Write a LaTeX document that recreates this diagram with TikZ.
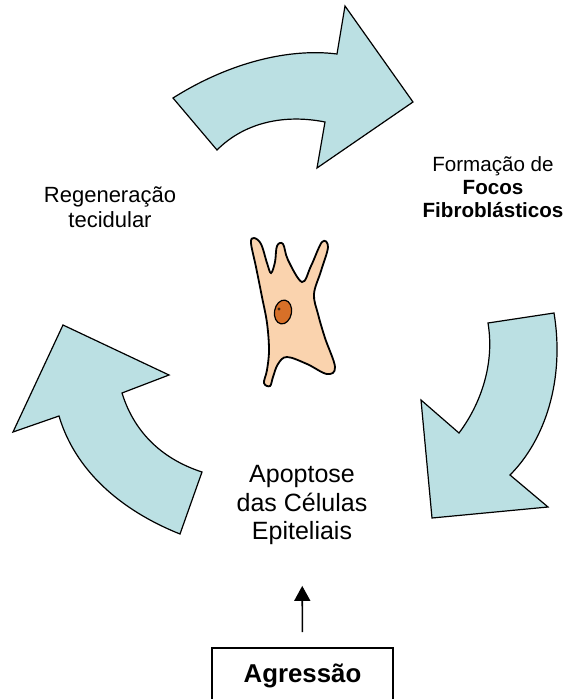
\documentclass[tikz,border=0pt]{standalone}
\usepackage{fontspec}
\setmainfont{Liberation Sans}
\usetikzlibrary{arrows.meta,positioning}

\begin{document}
\begin{tikzpicture}[x=1pt,y=-1pt,
    mytext/.style = {inner sep=0pt, align=center},
    big/.style = {mytext,font=\fontsize{25}{28.5}\selectfont},
    mid/.style = {mytext,font=\fontsize{22}{25}\selectfont},
    small/.style = {mytext,font=\fontsize{20.6}{23.3}\selectfont},
    cyc/.style = {draw,line width=1.2pt,line join=miter,fill={rgb,255:red,187;green,224;blue,227}},
    cell/.style = {draw,line width=1.8pt,fill={rgb,255:red,250;green,211;blue,174}},
    box/.style = {draw,line width=1.6pt,minimum width=181pt,minimum height=55pt,
                  font=\fontsize{25.8}{29}\selectfont\bfseries},
    push/.style = {-{Triangle[length=15pt,width=16pt]},line width=1.6pt}
    ]
    \useasboundingbox (0,0) rectangle (568,699);
    % the three arrows of the cycle
    \draw[cyc] (173,98) .. controls (230,62) and (290,48) .. (337,54)
        -- (345,6) -- (413,102) -- (317,168) -- (325,122)
        .. controls (285,114) and (245,122) .. (217,150) -- cycle;
    \draw[cyc] (488,323) -- (554,313) .. controls (565,380) and (545,440) .. (510,475)
        -- (548,507) -- (432,518) -- (421,400) -- (459,433)
        .. controls (480,405) and (495,365) .. (488,323) -- cycle;
    \draw[cyc] (63,325) -- (169,375) -- (122,393)
        .. controls (135,435) and (165,460) .. (202,472) -- (180,534)
        .. controls (120,510) and (75,470) .. (59,416) -- (13,432) -- cycle;
    % cell
    \draw[cell] plot[smooth cycle,tension=0.6] coordinates {
        (254,238) (261,244) (267,263) (271,273) (275,262) (277,246)
        (283,244) (288,260) (302,282) (311,266) (322,242) (328,247)
        (321,271) (314,294) (318,314) (325,338) (335,367) (327,374)
        (307,364) (287,357) (278,364) (273,377) (270,386) (264,383)
        (267,370) (269,350) (267,323) (262,297) (256,267) (251,243)};
    \draw[line width=1.2pt,fill={rgb,255:red,215;green,112;blue,40}]
        (283,312) ellipse [x radius=8.5pt,y radius=12pt,rotate=-10];
    \fill[black!70!brown] (279,309) circle (1.6pt);
    % labels
    \node[mid] (reg) at (110,207) {Regenera\c{c}\~ao\\tecidular};
    \node[small] (foc) at (493,187) {Forma\c{c}\~ao de\\\textbf{Focos}\\\textbf{Fibrobl\'asticos}};
    \node[big] (apo) at (302,505) {Apoptose\\das C\'elulas\\Epiteliais};
    \node[box] (agr) at (302.5,675.5) {Agress\~ao};
    \path[push] (agr) edge[shorten <=15pt,shorten >=41pt] (apo);
\end{tikzpicture}
\end{document}
